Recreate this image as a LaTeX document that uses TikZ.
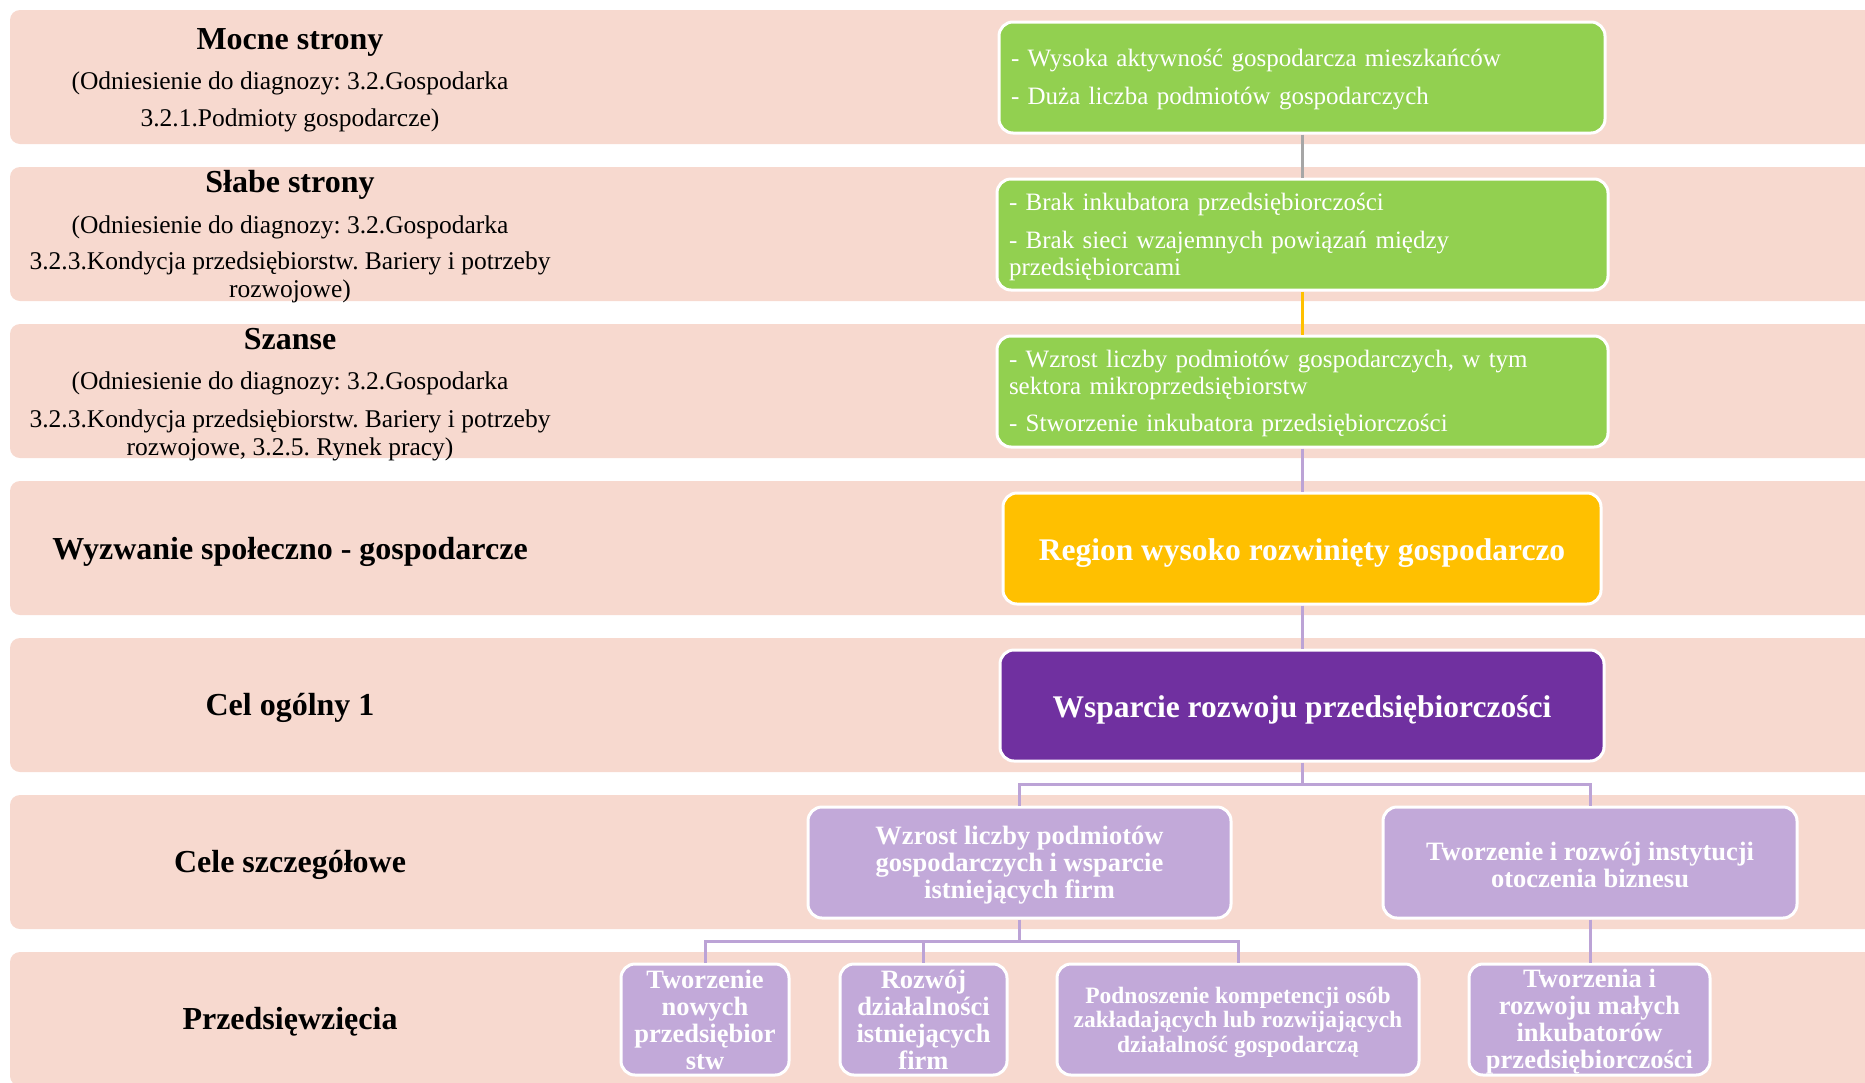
\documentclass[tikz,border=0pt]{standalone}
\usepackage{fontspec}
\setmainfont{Liberation Serif}
\frenchspacing
\definecolor{bandc}{HTML}{F7D9CF}
\definecolor{greenc}{HTML}{92D050}
\definecolor{yellowc}{HTML}{FFC000}
\definecolor{purplec}{HTML}{7030A0}
\definecolor{lavc}{HTML}{C2A9D9}
\definecolor{lavline}{HTML}{BCA3D6}
\definecolor{grayline}{HTML}{A6A6A6}
\newcommand\topstr[1]{\rule{0pt}{#1}}
\begin{document}
\begin{tikzpicture}[x=1pt,y=-1pt,
  boxbase/.style={draw=white, line width=3pt, rounded corners=14pt, text=white, inner sep=0pt},
  gbox/.style={boxbase, fill=greenc, minimum height=111pt, inner xsep=12pt, align=left,
    font=\fontsize{25}{27}\selectfont},
  bigbox/.style={boxbase, minimum height=111pt, text height=30pt, text depth=7pt,
    font=\bfseries\fontsize{31.5}{32}\selectfont},
  celbox/.style={boxbase, fill=lavc, minimum height=111pt, align=center,
    font=\bfseries\fontsize{26.5}{27}\selectfont},
  lbl/.style={align=center, text=black, inner sep=0pt, font=\fontsize{25.5}{28}\selectfont\frenchspacing},
  ttl/.style={text=black, inner sep=0pt, font=\bfseries\fontsize{32}{32}\selectfont},
  conn/.style={line width=3pt, draw=lavline}
]
\useasboundingbox (0,0) rectangle (1865,1082);
\clip (0,0) rectangle (1865,1082);
\foreach \k in {0,...,6}{
  \fill[bandc, rounded corners=10pt] (10,{10+157*\k}) rectangle (1900,{144+157*\k});
}
% left labels
\node[lbl] (l1) at (290,80.5) {{\bfseries\fontsize{32}{28}\selectfont Mocne strony}\\[12.5pt]
  (Odniesienie do diagnozy: 3.2.Gospodarka\\[9pt]
  3.2.1.Podmioty gospodarcze)};
\node[lbl] (l2) at (290,236.5) {{\bfseries\fontsize{32}{28}\selectfont Słabe strony}\\[13pt]
  (Odniesienie do diagnozy: 3.2.Gospodarka\\[8pt]
  3.2.3.Kondycja przedsiębiorstw. Bariery i potrzeby\\
  rozwojowe)};
\node[lbl] (l3) at (290,395) {{\bfseries\fontsize{32}{28}\selectfont Szanse}\\[12pt]
  (Odniesienie do diagnozy: 3.2.Gospodarka\\[10pt]
  3.2.3.Kondycja przedsiębiorstw. Bariery i potrzeby\\
  rozwojowe, 3.2.5. Rynek pracy)};
\node[ttl] (l4) at (290,551.5) {Wyzwanie społeczno - gospodarcze};
\node[ttl] (l5) at (290,707.5) {Cel ogólny 1};
\node[ttl] (l6) at (290,864.5) {Cele szczegółowe};
\node[ttl] (l7) at (290,1021.5) {Przedsięwzięcia};
% right column
\node[gbox, text width=582pt] (s1) at (1302,77.5) {\topstr{22pt}- Wysoka aktywność gospodarcza mieszkańców\\[11pt]
  - Duża liczba podmiotów gospodarczych};
\node[gbox, text width=587pt] (s2) at (1302.5,234.5) {\topstr{22pt}- Brak inkubatora przedsiębiorczości\\[11pt]
  - Brak sieci wzajemnych powiązań między\\ przedsiębiorcami};
\node[gbox, text width=587pt] (s3) at (1302.5,391.5) {\topstr{22pt}- Wzrost liczby podmiotów gospodarczych, w tym\\ sektora mikroprzedsiębiorstw\\[10pt]
  - Stworzenie inkubatora przedsiębiorczości};
\node[bigbox, fill=yellowc, minimum width=598pt] (reg) at (1302,548.5) {Region wysoko rozwinięty gospodarczo};
\node[bigbox, fill=purplec, minimum width=604pt] (wsp) at (1302,705.5) {Wsparcie rozwoju przedsiębiorczości};
\node[celbox, minimum width=423pt] (c1) at (1019.5,862.5) {\topstr{24pt}Wzrost liczby podmiotów\\ gospodarczych i wsparcie\\ istniejących firm};
\node[celbox, minimum width=414pt] (c2) at (1590,862.5) {\topstr{23pt}Tworzenie i rozwój instytucji\\ otoczenia biznesu};
\node[celbox, minimum width=168pt] (p1) at (705,1019.5) {Tworzenie\\ nowych\\ przedsiębior\\ stw};
\node[celbox, minimum width=167pt] (p2) at (923.5,1019.5) {Rozwój\\ działalności\\ istniejących\\ firm};
\node[celbox, minimum width=362pt, font=\bfseries\fontsize{23.5}{24.5}\selectfont] (p3) at (1238,1019.5) {\topstr{22pt}Podnoszenie kompetencji osób\\ zakładających lub rozwijających\\ działalność gospodarczą};
\node[celbox, minimum width=241pt] (p4) at (1589.5,1019.5) {\topstr{22pt}Tworzenia i\\ rozwoju małych\\ inkubatorów\\ przedsiębiorczości};
% connectors
\draw[conn, draw=grayline] (s1.south) -- (s1.south |- s2.north);
\draw[conn, draw=yellowc] (s2.south) -- (s2.south |- s3.north);
\draw[conn] (s3.south) -- (s3.south |- reg.north);
\draw[conn] (reg.south) -- (reg.south |- wsp.north);
\coordinate (j1) at (1302,784);
\draw[conn] (wsp.south) -- (j1);
\draw[conn] (j1) -| (c1.north);
\draw[conn] (j1) -| (c2.north);
\coordinate (j2) at (1019.5,941);
\draw[conn] (c1.south) -- (j2);
\draw[conn] (j2) -| (p1.north);
\draw[conn] (j2) -| (p2.north);
\draw[conn] (j2) -| (p3.north);
\draw[conn] (c2.south) -- (c2.south |- p4.north);
\end{tikzpicture}
\end{document}
